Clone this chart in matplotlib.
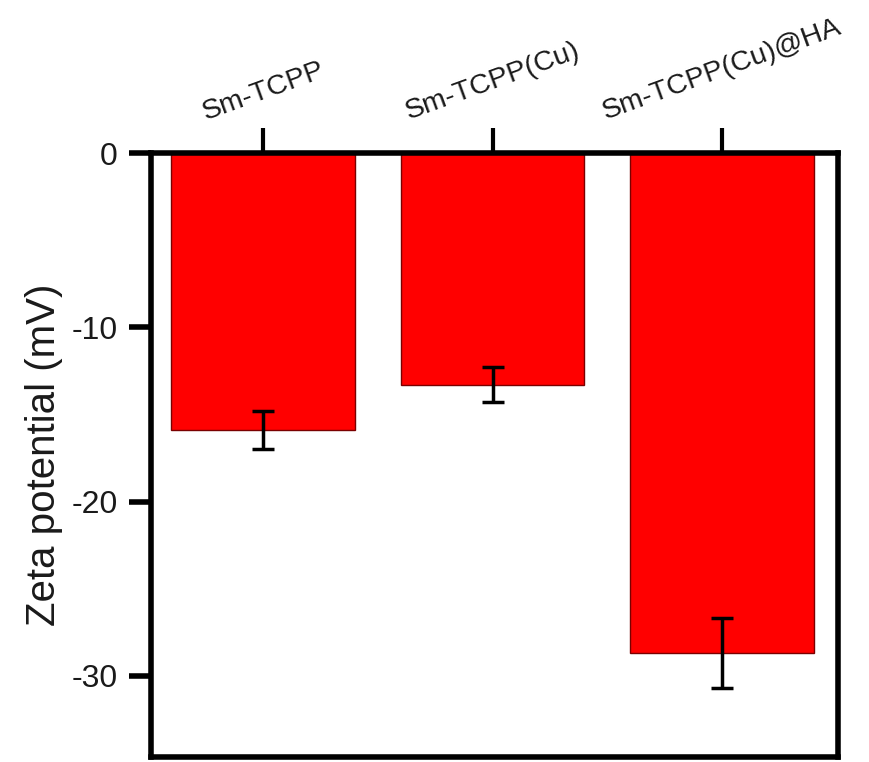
import matplotlib.pyplot as plt

plt.rcParams['font.family'] = ['Liberation Sans', 'DejaVu Sans']

samples = ['Sm-TCPP', 'Sm-TCPP(Cu)', 'Sm-TCPP(Cu)@HA']
zeta = [-15.9, -13.3, -28.7]
zeta_err = [1.1, 1.0, 2.0]

fig = plt.figure(figsize=(8.7, 7.62), dpi=100)
ax = fig.add_axes([0.1736, 0.0066, 0.7897, 0.7926])

x = range(len(samples))
ax.bar(x, zeta, width=0.8, color='#ff0000', edgecolor='#7a0000', linewidth=1.0,
       yerr=zeta_err, capsize=8, error_kw=dict(elinewidth=2.5, capthick=2.5, ecolor='black'))

ax.set_xlim(-0.488, 2.505)
ax.set_ylim(-34.65, 0)
ax.set_yticks([0, -10, -20, -30])
ax.set_yticklabels(['0', '-10', '-20', '-30'])

ax.xaxis.tick_top()
ax.set_xticks(list(x))
ax.set_xticklabels(samples, rotation=20, ha='center', fontsize=20.5, color='#1a1a1a')

ax.tick_params(axis='x', direction='out', length=18, width=3, pad=2)
ax.tick_params(axis='y', direction='out', length=16, width=4, pad=8, labelsize=23, labelcolor='#1a1a1a')
for s in ax.spines.values():
    s.set_linewidth(4)

ax.set_ylabel('Zeta potential (mV)', fontsize=29, color='#1a1a1a', labelpad=6)

fig.savefig('out.png', dpi=100)
